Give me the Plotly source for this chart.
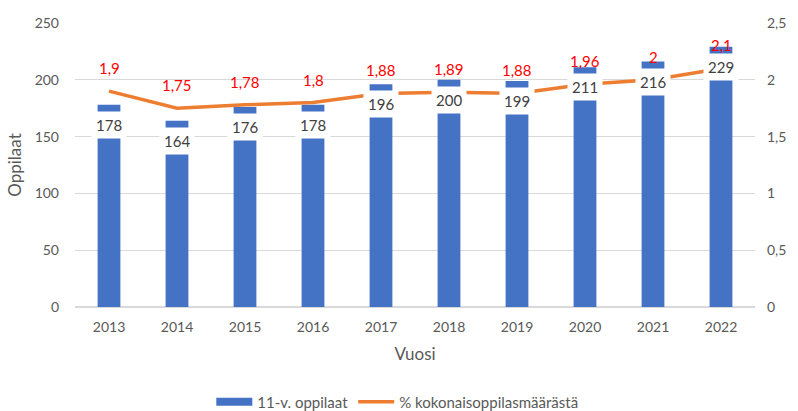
import plotly.graph_objects as go

years = ["2013", "2014", "2015", "2016", "2017", "2018", "2019", "2020", "2021", "2022"]
students = [178, 164, 176, 178, 196, 200, 199, 211, 216, 229]
percent = [1.9, 1.75, 1.78, 1.8, 1.88, 1.89, 1.88, 1.96, 2.0, 2.1]
pct_labels = ["1,9", "1,75", "1,78", "1,8", "1,88", "1,89", "1,88", "1,96", "2", "2,1"]

FONT = "Lato"
BLUE = "#4472C4"
ORANGE = "#ED7D31"
fig = go.Figure()
fig.add_trace(go.Bar(x=years, y=students, name="11-v. oppilaat", showlegend=False,
                     marker=dict(color=BLUE, line=dict(width=0)), yaxis="y"))
# legend entry drawn as a wide blue bar swatch
fig.add_trace(go.Scatter(x=[None], y=[None], name="11-v. oppilaat", mode="lines",
                         line=dict(color=BLUE, width=8), yaxis="y"))
fig.add_trace(go.Scatter(x=years, y=percent, name="% kokonaisoppilasmäärästä", mode="lines",
                         line=dict(color=ORANGE, width=3.5), yaxis="y2"))

annotations = []
for i, v in enumerate(students):
    annotations.append(dict(x=i, y=v, xref="x", yref="y", text=str(v), showarrow=False,
                            yanchor="top", yshift=-6, bgcolor="white", borderpad=4,
                            font=dict(family=FONT, size=15, color="#404040")))
for i, (p, t) in enumerate(zip(percent, pct_labels)):
    annotations.append(dict(x=i, y=p, xref="x", yref="y2", text=t, showarrow=False,
                            yanchor="middle", yshift=23,
                            font=dict(family=FONT, size=15, color="#FF0000")))

fig.update_layout(
    width=798, height=411,
    margin=dict(l=75, r=35, t=23, b=104),
    plot_bgcolor="white", paper_bgcolor="white",
    separators=", ",
    bargap=0.665,
    font=dict(family=FONT, size=14, color="#595959"),
    xaxis=dict(type="category", range=[-0.5, 9.5], ticklabelstandoff=10,
               title=dict(text="Vuosi", font=dict(size=17, color="#595959"), standoff=14),
               showgrid=False, showline=False, ticks="", tickfont=dict(size=14)),
    yaxis=dict(title=dict(text="Oppilaat", font=dict(size=17, color="#595959"), standoff=8),
               range=[0, 250], dtick=50, showgrid=True, gridcolor="#D9D9D9", gridwidth=1,
               zeroline=True, zerolinecolor="#D9D9D9", showline=False, ticks="",
               ticklabelstandoff=15, tickfont=dict(size=14)),
    yaxis2=dict(overlaying="y", side="right", range=[0, 2.5], dtick=0.5, showgrid=False,
                zeroline=False, showline=False, ticks="", tickfont=dict(size=14),
                ticklabelstandoff=11, tickformat=".1~f"),
    legend=dict(orientation="h", x=0.474, xanchor="center", yref="container", y=0.022,
                yanchor="middle", font=dict(size=15, color="#595959"),
                traceorder="normal", itemwidth=36),
    annotations=annotations,
)
fig.write_html("out.html")
